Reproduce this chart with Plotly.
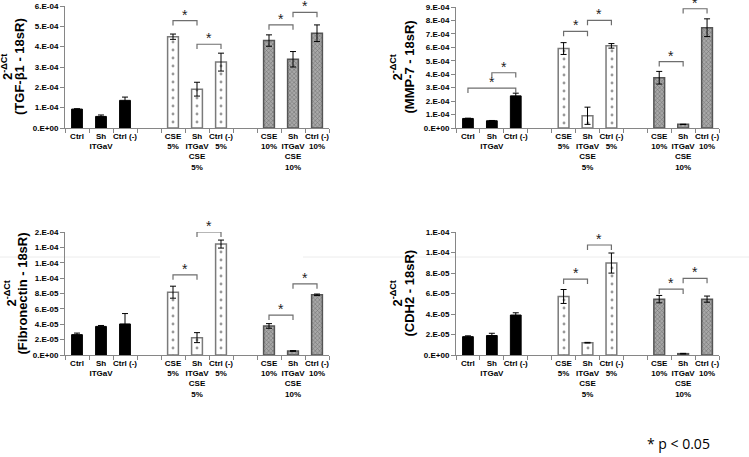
import plotly.graph_objects as go

# ---------------- data ----------------
categories = ["Ctrl", "Sh<br>ITGaV", "Ctrl (-)",
              "CSE<br>5%", "Sh<br>ITGaV<br>CSE<br>5%", "Ctrl (-)<br>5%",
              "CSE<br>10%", "Sh<br>ITGaV<br>CSE<br>10%", "Ctrl (-)<br>10%"]

tgf_vals = [0.93e-4, 0.57e-4, 1.36e-4, 4.49e-4, 1.91e-4, 3.24e-4, 4.30e-4, 3.38e-4, 4.66e-4]
tgf_err = [0.02e-4, 0.07e-4, 0.16e-4, 0.13e-4, 0.34e-4, 0.44e-4, 0.28e-4, 0.38e-4, 0.41e-4]

mmp_vals = [0.71e-4, 0.54e-4, 2.39e-4, 5.91e-4, 0.91e-4, 6.11e-4, 3.74e-4, 0.27e-4, 7.46e-4]
mmp_err = [0.02e-4, 0.02e-4, 0.20e-4, 0.44e-4, 0.64e-4, 0.17e-4, 0.47e-4, 0.01e-4, 0.66e-4]

fn_vals = [2.65e-5, 3.72e-5, 4.04e-5, 8.17e-5, 2.26e-5, 14.43e-5, 3.78e-5, 0.52e-5, 7.83e-5]
fn_err = [0.20e-5, 0.12e-5, 1.35e-5, 0.78e-5, 0.65e-5, 0.52e-5, 0.30e-5, 0.05e-5, 0.10e-5]

cdh_vals = [1.79e-5, 1.90e-5, 3.90e-5, 5.71e-5, 1.20e-5, 8.97e-5, 5.45e-5, 0.13e-5, 5.45e-5]
cdh_err = [0.08e-5, 0.22e-5, 0.22e-5, 0.68e-5, 0.03e-5, 0.98e-5, 0.36e-5, 0.03e-5, 0.30e-5]

# significance brackets: (from category index, to category index, bracket level)
tgf_sig = [(3, 4, 5.28e-4), (4, 5, 4.12e-4), (6, 7, 5.07e-4), (7, 8, 5.69e-4)]
mmp_sig = [(0, 2, 2.96e-4), (1, 2, 4.11e-4), (3, 4, 7.19e-4), (4, 5, 8.00e-4),
           (6, 7, 4.93e-4), (7, 8, 8.87e-4)]
fn_sig = [(3, 4, 10.43e-5), (4, 5, 16.0e-5), (6, 7, 5.2e-5), (7, 8, 9.26e-5)]
cdh_sig = [(3, 4, 7.4e-5), (4, 5, 10.73e-5), (6, 7, 6.43e-5), (7, 8, 7.47e-5)]

# y ticks
tgf_ticks = [0, 1e-4, 2e-4, 3e-4, 4e-4, 5e-4, 6e-4]
tgf_ticklabels = ["0.E+00", "1.E-04", "2.E-04", "3.E-04", "4.E-04", "5.E-04", "6.E-04"]
mmp_ticks = [0, 1e-4, 2e-4, 3e-4, 4e-4, 5e-4, 6e-4, 7e-4, 8e-4, 9e-4]
mmp_ticklabels = ["0.E+00", "1.E-04", "2.E-04", "3.E-04", "4.E-04", "5.E-04",
                  "6.E-04", "7.E-04", "8.E-04", "9.E-04"]
fn_ticks = [0, 2e-5, 4e-5, 6e-5, 8e-5, 10e-5, 12e-5, 14e-5, 16e-5]
fn_ticklabels = ["0.E+00", "2.E-05", "4.E-05", "6.E-05", "8.E-05", "1.E-04",
                 "1.E-04", "1.E-04", "2.E-04"]
cdh_ticks = [0, 2e-5, 4e-5, 6e-5, 8e-5, 10e-5, 12e-5]
cdh_ticklabels = ["0.E+00", "2.E-05", "4.E-05", "6.E-05", "8.E-05", "1.E-04", "1.E-04"]

titles = ["(TGF-β1 - 18sR)", "(MMP-7 - 18sR)", "(Fibronectin - 18sR)", "(CDH2 - 18sR)"]

# ---------------- layout helpers ----------------
W, H = 749, 457
FONT = "Liberation Sans, Arial, sans-serif"
AXIS_COL = "#868686"

# positions: 3 groups of 3 categories, one empty slot between groups
positions = [g * 4 + k for g in range(3) for k in range(3)]

panels = [
    dict(vals=tgf_vals, err=tgf_err, sig=tgf_sig, ticks=tgf_ticks, tl=tgf_ticklabels,
         px=(65, 329), py=(6, 128), title=titles[0], tx=(7, 19)),
    dict(vals=mmp_vals, err=mmp_err, sig=mmp_sig, ticks=mmp_ticks, tl=mmp_ticklabels,
         px=(456, 719), py=(7, 128), title=titles[1], tx=(396, 409)),
    dict(vals=fn_vals, err=fn_err, sig=fn_sig, ticks=fn_ticks, tl=fn_ticklabels,
         px=(65, 329), py=(232, 355), title=titles[2], tx=(10, 22)),
    dict(vals=cdh_vals, err=cdh_err, sig=cdh_sig, ticks=cdh_ticks, tl=cdh_ticklabels,
         px=(456, 719), py=(232, 355), title=titles[3], tx=(396, 409)),
]

group_styles = [
    dict(color="black", line=dict(color="black", width=1), pattern=None),
    dict(color="white", line=dict(color="#7a7a7a", width=1.5),
         pattern=dict(shape=".", fgcolor="#333333", bgcolor="white", size=8, solidity=0.1)),
    dict(color="#8a8a8a", line=dict(color="#555555", width=1.5),
         pattern=dict(shape="x", fgcolor="#3c3c3c", bgcolor="#a8a8a8", size=3, solidity=0.35)),
]

fig = go.Figure()
shapes = []
annotations = []

for pi, p in enumerate(panels):
    sfx = "" if pi == 0 else str(pi + 1)
    xa, ya = "x" + sfx, "y" + sfx
    for g in range(3):
        idx = list(range(g * 3, g * 3 + 3))
        st = group_styles[g]
        marker = dict(color=st["color"], line=st["line"])
        if st["pattern"] is not None:
            marker["pattern"] = st["pattern"]
        fig.add_trace(go.Bar(
            x=[positions[i] for i in idx],
            y=[p["vals"][i] for i in idx],
            error_y=dict(type="data", array=[p["err"][i] for i in idx],
                         color="black", thickness=1, width=3),
            marker=marker, width=0.45, xaxis=xa, yaxis=ya, showlegend=False,
        ))
    x0p, x1p = p["px"]
    ytop, ybot = p["py"]
    dom_x = [x0p / W, x1p / W]
    dom_y = [(H - ybot) / H, (H - ytop) / H]
    ymax = p["ticks"][-1]
    layout_x = dict(
        domain=dom_x, range=[-0.5, 10.5], anchor=ya, automargin=False,
        tickmode="array", tickvals=positions, ticktext=categories, tickangle=0,
        ticks="", showgrid=False, zeroline=False,
        showline=True, linecolor=AXIS_COL, linewidth=1,
        tickfont=dict(family=FONT, size=8, color="black", weight="bold"),
        minor=dict(tickmode="array", tickvals=[i - 0.5 for i in range(12)],
                   ticks="outside", ticklen=4, tickcolor=AXIS_COL, showgrid=False),
    )
    layout_y = dict(
        domain=dom_y, range=[0, ymax], anchor=xa, automargin=False,
        tickmode="array", tickvals=p["ticks"], ticktext=p["tl"],
        ticks="outside", ticklen=4, tickcolor=AXIS_COL,
        showgrid=False, zeroline=False,
        showline=True, linecolor=AXIS_COL, linewidth=1,
        tickfont=dict(family=FONT, size=8, color="black", weight="bold"),
    )
    fig.layout["xaxis" + sfx] = layout_x
    fig.layout["yaxis" + sfx] = layout_y

    # significance brackets
    drop = ymax * 0.04
    for (a, b, lvl) in p["sig"]:
        xa0, xa1 = positions[a], positions[b]
        shapes.append(dict(type="path", xref=xa, yref=ya,
                           path=f"M {xa0},{lvl - drop} L {xa0},{lvl} L {xa1},{lvl} L {xa1},{lvl - drop}",
                           line=dict(color="#6e6e6e", width=1.2)))
        annotations.append(dict(x=(xa0 + xa1) / 2, y=lvl, xref=xa, yref=ya,
                                text="*", showarrow=False, yanchor="bottom",
                                font=dict(family=FONT, size=14, color="#222"), yshift=-4))

    # y-axis title (two lines)
    ymid = (H - (ytop + ybot) / 2) / H
    annotations.append(dict(x=p["tx"][0] / W, y=ymid, xref="paper", yref="paper",
                            text="<b>2<sup>-ΔCt</sup></b>", textangle=-90, showarrow=False,
                            xanchor="center", yanchor="middle",
                            font=dict(family=FONT, size=13, color="black")))
    annotations.append(dict(x=p["tx"][1] / W, y=ymid, xref="paper", yref="paper",
                            text="<b>" + p["title"] + "</b>", textangle=-90, showarrow=False,
                            xanchor="center", yanchor="middle",
                            font=dict(family=FONT, size=13, color="black")))

annotations.append(dict(x=645 / W, y=(H - 443) / H, xref="paper", yref="paper",
                        text="* p < 0.05", showarrow=False, xanchor="left", yanchor="middle",
                        font=dict(family="Open Sans, sans-serif", size=14, color="black")))

# faint artifact line
shapes.append(dict(type="line", xref="paper", yref="paper", x0=0, x1=160 / W,
                   y0=(H - 257) / H, y1=(H - 257) / H, line=dict(color="#ececec", width=1),
                   layer="below"))
shapes.append(dict(type="line", xref="paper", yref="paper", x0=303 / W, x1=1,
                   y0=(H - 257) / H, y1=(H - 257) / H, line=dict(color="#ececec", width=1),
                   layer="below"))

fig.update_layout(
    width=W, height=H, margin=dict(l=0, r=0, t=0, b=0, pad=0, autoexpand=False),
    paper_bgcolor="white", plot_bgcolor="rgba(0,0,0,0)",
    shapes=shapes, annotations=annotations, bargap=0.5,
    font=dict(family=FONT),
)

fig.write_html("out.html", config={"displayModeBar": False},
               post_script="document.body.style.margin='0';")
